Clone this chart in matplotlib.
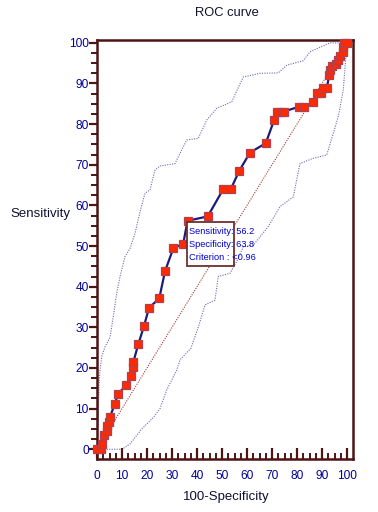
import matplotlib
matplotlib.use("Agg")
import matplotlib.pyplot as plt
from matplotlib.patches import Rectangle
from matplotlib.ticker import MultipleLocator

plt.rcParams['font.family'] = ['Liberation Sans', 'DejaVu Sans']

# ROC curve points (100-Specificity, Sensitivity)
fpr = [0, 1.6, 1.9, 2.8, 3.9, 3.9, 4.9, 5.2, 7.2, 8.3, 11.6, 13.5, 14.5, 14.5,
       16.5, 18.8, 20.8, 24.9, 27.2, 30.5, 34.5, 36.2, 44.3, 50.5, 53.5, 56.9,
       61.2, 67.5, 70.8, 71.9, 73.5, 74.8, 80.9, 82.8, 86.5, 87.9, 89.5, 90.5,
       91.9, 92.9, 93.2, 94.1, 95.6, 96.5, 97.2, 98.3, 98.5, 98.8, 100]
tpr = [0, 0, 1.2, 3.5, 4.5, 5.6, 6.8, 8.0, 11.2, 13.5, 15.7, 18.0, 20.2, 21.4,
       25.8, 30.3, 34.8, 37.1, 43.8, 49.4, 50.6, 56.2, 57.3, 64.0, 64.0, 68.5,
       73.0, 75.3, 80.9, 83.1, 83.1, 83.1, 84.3, 84.3, 85.4, 87.6, 87.6, 88.8,
       88.8, 92.1, 93.3, 94.4, 94.9, 95.7, 96.7, 97.8, 98.9, 100, 100]

# confidence bounds
up_x = [0, 0.5, 0.9, 1.2, 1.9, 3.2, 5.2, 6.5, 7.9, 9.2, 11.2, 13.2, 15.2, 17.2,
        19.2, 21.2, 23.2, 25.2, 31.2, 33.2, 35.9, 40.5, 43.9, 47.9, 53.9, 58.5,
        65.2, 72.5, 75.9, 82.5, 85.2, 93.2, 100]
up_y = [0, 8.9, 17, 19.5, 22.8, 25.2, 27.5, 32.6, 38.4, 42.5, 47.4, 49.4, 53.1,
        58.4, 63, 63.8, 68.7, 69.7, 70.3, 72.8, 76.1, 76.5, 81, 83.9, 85.5,
        91.6, 92.5, 92.6, 94.5, 95.6, 97.8, 100, 100]
lo_x = [0, 1.2, 3.2, 10.0, 13.2, 17.9, 22.5, 25.2, 27.9, 31.9, 33.2, 37.5,
        40.5, 43.2, 47.2, 48.5, 53.2, 55.9, 58.5, 62.5, 68.5, 73.2, 78.5, 81.2,
        86.5, 91.9, 94.5, 96.5, 98.5, 100]
lo_y = [0, 0, 0, 0, 1.3, 5.0, 7.8, 10.0, 14.6, 19.5, 22.0, 24.8, 30, 35.5,
        36.7, 42.5, 43.3, 46.2, 49.8, 50.2, 54.8, 59.7, 62.1, 70.3, 71.6, 72.4,
        77.7, 81.8, 88.4, 100]

info = ["Sensitivity: 56.2", "Specificity: 63.8", "Criterion : <0.96"]

spine_c = '#4e1414'
tick_c = '#000099'

fig = plt.figure(figsize=(3.78, 5.12), dpi=100)
ax = fig.add_axes([97/378, 1 - 459/512, 256/378, 419/512])

ax.plot([0, 100], [0, 100], ls=(0, (1, 1.2)), color='#a03838', lw=0.8, zorder=1)
ax.plot(up_x, up_y, ls=(0, (1, 1.2)), color='#6a6ab8', lw=0.8, zorder=1)
ax.plot(lo_x, lo_y, ls=(0, (1, 1.2)), color='#6a6ab8', lw=0.8, zorder=1)
ax.plot(fpr, tpr, color='#1c1c78', lw=1.6, marker='s', ms=5.8,
        mfc='#ff2a00', mec='#b04050', mew=0.9, zorder=3, clip_on=False)

ax.set_xlim(0, 102.4)
ax.set_ylim(-2.4, 100.7)

for s in ax.spines.values():
    s.set_color(spine_c)
    s.set_linewidth(1.8)

ax.xaxis.set_major_locator(MultipleLocator(10))
ax.xaxis.set_minor_locator(MultipleLocator(2.5))
ax.yaxis.set_major_locator(MultipleLocator(10))
ax.yaxis.set_minor_locator(MultipleLocator(2.5))
ax.tick_params(axis='x', which='major', direction='in', length=8, width=1.6,
               color=spine_c, labelcolor=tick_c, labelsize=8.6, pad=8)
ax.tick_params(axis='x', which='minor', direction='in', length=4, width=1.4,
               color=spine_c)
ax.tick_params(axis='y', which='major', direction='out', length=6, width=1.6,
               color=spine_c, labelcolor=tick_c, labelsize=8.6, pad=0)
ax.tick_params(axis='y', which='minor', direction='out', length=4, width=1.4,
               color=spine_c)
ax.set_xticks([t for t in range(0, 101, 10)])
ax.set_yticks([t for t in range(0, 101, 10)])

# info box at the selected criterion
ax.add_patch(Rectangle((35.9, 45.1), 18.9, 10.9, facecolor='white',
                       edgecolor='#6a3030', lw=1.3, zorder=4))
box_clip = Rectangle((35.9, 40), 26.9, 20, transform=ax.transData)
for i, line in enumerate(info):
    t = ax.text(36.9, 53.6 - i * 3.27, line, fontsize=6.7, color='#0000cc',
                va='center', ha='left', zorder=5)
    if i == 2:
        t.set_clip_path(box_clip)

fig.text(227/378, 1 - 13/512, 'ROC curve', ha='center', va='center',
         fontsize=9.3, color='#101030')
fig.text(40/378, 1 - 214/512, 'Sensitivity', ha='center', va='center',
         fontsize=9.5, color='#101030')
fig.text(226/378, 1 - 497/512, '100-Specificity', ha='center', va='center',
         fontsize=9.5, color='#101030')

fig.savefig('out.png', dpi=100)
